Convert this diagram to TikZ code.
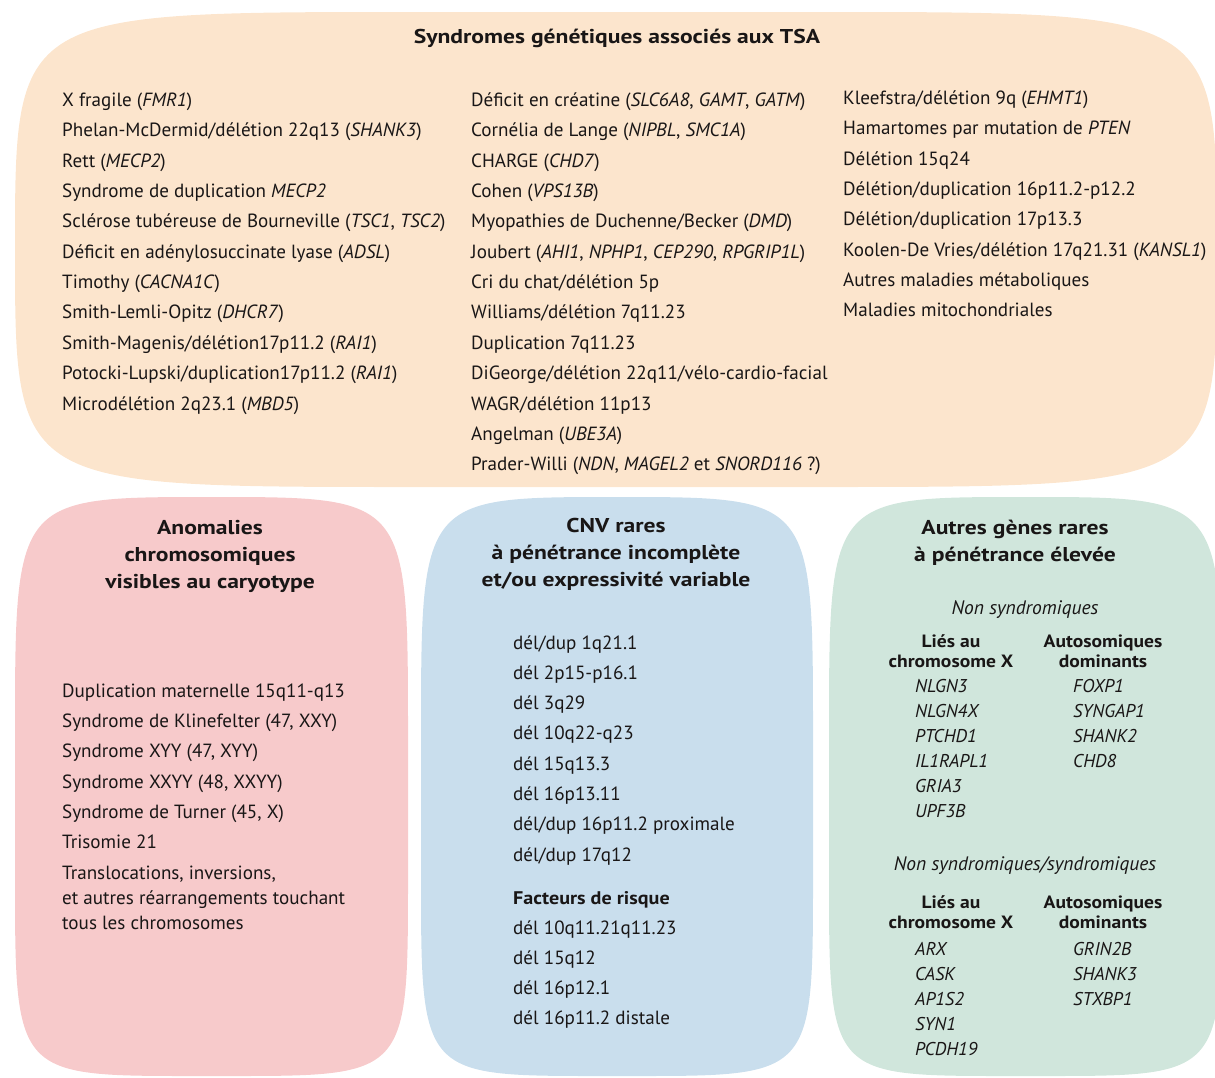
\documentclass[tikz,border=0pt]{standalone}
\usepackage{fontspec}
\setmainfont{PT Sans}
\newfontfamily\wideb{PT Sans}[FakeStretch=1.18]
\newfontfamily\widec{PT Sans}[FakeStretch=1.1]
\definecolor{peach}{RGB}{252,229,205}
\definecolor{pinkb}{RGB}{247,202,203}
\definecolor{blueb}{RGB}{201,222,237}
\definecolor{greenb}{RGB}{208,230,220}
\definecolor{ink}{RGB}{25,22,22}
\newcommand\softbox[9]{%
 \fill[#1] (#2,#3+#7) .. controls (#2,#3) .. (#2+#6,#3) -- (#4-#6,#3)
   .. controls (#4,#3) .. (#4,#3+#7) -- (#4,#5-#9)
   .. controls (#4,#5) .. (#4-#8,#5) -- (#2+#8,#5)
   .. controls (#2,#5) .. (#2,#5-#9) -- cycle;}
\begin{document}
\begin{tikzpicture}[x=1pt,y=-1pt,
  txt/.style={anchor=base west,inner sep=0pt,text=ink,font=\fontsize{19.1}{22}\selectfont},
  ttl/.style={anchor=base,inner sep=0pt,text=ink,font=\wideb\bfseries\fontsize{20}{22}\selectfont},
  hdr/.style={anchor=base,inner sep=0pt,text=ink,font=\widec\bfseries\fontsize{17.8}{20}\selectfont},
  sub/.style={anchor=base,inner sep=0pt,text=ink,font=\itshape\fontsize{19.5}{21}\selectfont},
  gene/.style={anchor=base west,inner sep=0pt,text=ink,font=\itshape\fontsize{18.5}{21}\selectfont}]
\useasboundingbox (0,0) rectangle (1215,1077);
\softbox{peach}{15}{12}{1217}{487}{400}{237}{400}{237}
\softbox{pinkb}{15}{497}{408}{1076}{196}{240}{180}{200}
\softbox{blueb}{421}{497}{813}{1076}{196}{240}{180}{200}
\softbox{greenb}{829}{497}{1222}{1076}{196}{240}{180}{200}

\node[ttl] (t0) at (617,43) {Syndromes génétiques associés aux TSA};
\foreach \t [count=\i] in {{X fragile (\textit{FMR1})},
 {Phelan-McDermid/délétion 22q13 (\textit{SHANK3})},
 {Rett (\textit{MECP2})},
 {Syndrome de duplication \textit{MECP2}},
 {Sclérose tubéreuse de Bourneville (\textit{TSC1}, \textit{TSC2})},
 {Déficit en adénylosuccinate lyase (\textit{ADSL})},
 {Timothy (\textit{CACNA1C})},
 {Smith-Lemli-Opitz (\textit{DHCR7})},
 {Smith-Magenis/délétion17p11.2 (\textit{RAI1})},
 {Potocki-Lupski/duplication17p11.2 (\textit{RAI1})},
 {Microdélétion 2q23.1 (\textit{MBD5})}}
 \node[txt] (a\i) at (62,{106.5+30.35*(\i-1)}) {\t};
\foreach \t [count=\i] in {{Déficit en créatine (\textit{SLC6A8}, \textit{GAMT}, \textit{GATM})},
 {Cornélia de Lange (\textit{NIPBL}, \textit{SMC1A})},
 {CHARGE (\textit{CHD7})},
 {Cohen (\textit{VPS13B})},
 {Myopathies de Duchenne/Becker (\textit{DMD})},
 {Joubert (\textit{AHI1}, \textit{NPHP1}, \textit{CEP290}, \textit{RPGRIP1L})},
 {Cri du chat/délétion 5p},
 {Williams/délétion 7q11.23},
 {Duplication 7q11.23},
 {DiGeorge/délétion 22q11/vélo-cardio-facial},
 {WAGR/délétion 11p13},
 {Angelman (\textit{UBE3A})},
 {Prader-Willi (\textit{NDN}, \textit{MAGEL2} et \textit{SNORD116} ?)}}
 \node[txt] (b\i) at (471,{106.5+30.35*(\i-1)}) {\t};
\foreach \t [count=\i] in {{Kleefstra/délétion 9q (\textit{EHMT1})},
 {Hamartomes par mutation de \textit{PTEN}},
 {Délétion 15q24},
 {Délétion/duplication 16p11.2-p12.2},
 {Délétion/duplication 17p13.3},
 {Koolen-De Vries/délétion 17q21.31 (\textit{KANSL1})},
 {Autres maladies métaboliques},
 {Maladies mitochondriales}}
 \node[txt] (c\i) at (843,{104.5+30.35*(\i-1)}) {\t};

% pink
\foreach \t [count=\i] in {Anomalies,chromosomiques,visibles au caryotype}
 \node[ttl] (p\i) at (210,{534+27*(\i-1)}) {\t};
\foreach \t [count=\i] in {{Duplication maternelle 15q11-q13},
 {Syndrome de Klinefelter (47, XXY)},
 {Syndrome XYY (47, XYY)},
 {Syndrome XXYY (48, XXYY)},
 {Syndrome de Turner (45, X)},
 {Trisomie 21},
 {Translocations, inversions,}}
 \node[txt] (q\i) at (62,{697+30.35*(\i-1)}) {\t};
\node[txt] (q8) at (62,904) {et autres réarrangements touchant};
\node[txt] (q9) at (62,929) {tous les chromosomes};

% blue
\foreach \t [count=\i] in {CNV rares,à pénétrance incomplète,et/ou expressivité variable}
 \node[ttl] (r\i) at (616,{532+27*(\i-1)}) {\t};
\foreach \t [count=\i] in {dél/dup 1q21.1,dél 2p15-p16.1,dél 3q29,dél 10q22-q23,dél 15q13.3,dél 16p13.11,dél/dup 16p11.2 proximale,dél/dup 17q12}
 \node[txt] (s\i) at (513,{649+30.3*(\i-1)}) {\t};
\node[txt,font=\widec\bfseries\fontsize{18.3}{21}\selectfont] (fr) at (513,904) {Facteurs de risque};
\foreach \t [count=\i] in {dél 10q11.21q11.23,dél 15q12,dél 16p12.1,dél 16p11.2 distale}
 \node[txt] (u\i) at (513,{934+30.3*(\i-1)}) {\t};

% green
\node[ttl] (g1) at (1015,534) {Autres gènes rares};
\node[ttl] (g2) at (1015,561) {à pénétrance élevée};
\node[sub] (ns) at (1025,614) {Non syndromiques};
\node[hdr] (h1) at (951,647) {Liés au};
\node[hdr] (h2) at (951,667) {chromosome X};
\node[hdr] (h3) at (1103,647) {Autosomiques};
\node[hdr] (h4) at (1103,667) {dominants};
\foreach \t [count=\i] in {NLGN3,NLGN4X,PTCHD1,IL1RAPL1,GRIA3,UPF3B}
 \node[gene] (x\i) at (915,{692+25*(\i-1)}) {\t};
\foreach \t [count=\i] in {FOXP1,SYNGAP1,SHANK2,CHD8}
 \node[gene] (y\i) at (1073,{692+25*(\i-1)}) {\t};
\node[sub] (nss) at (1025,870) {Non syndromiques/syndromiques};
\node[hdr] (k1) at (951,908) {Liés au};
\node[hdr] (k2) at (951,928) {chromosome X};
\node[hdr] (k3) at (1103,908) {Autosomiques};
\node[hdr] (k4) at (1103,928) {dominants};
\foreach \t [count=\i] in {ARX,CASK,AP1S2,SYN1,PCDH19}
 \node[gene] (v\i) at (915,{955+25*(\i-1)}) {\t};
\foreach \t [count=\i] in {GRIN2B,SHANK3,STXBP1}
 \node[gene] (w\i) at (1073,{955+25*(\i-1)}) {\t};
\end{tikzpicture}
\end{document}
